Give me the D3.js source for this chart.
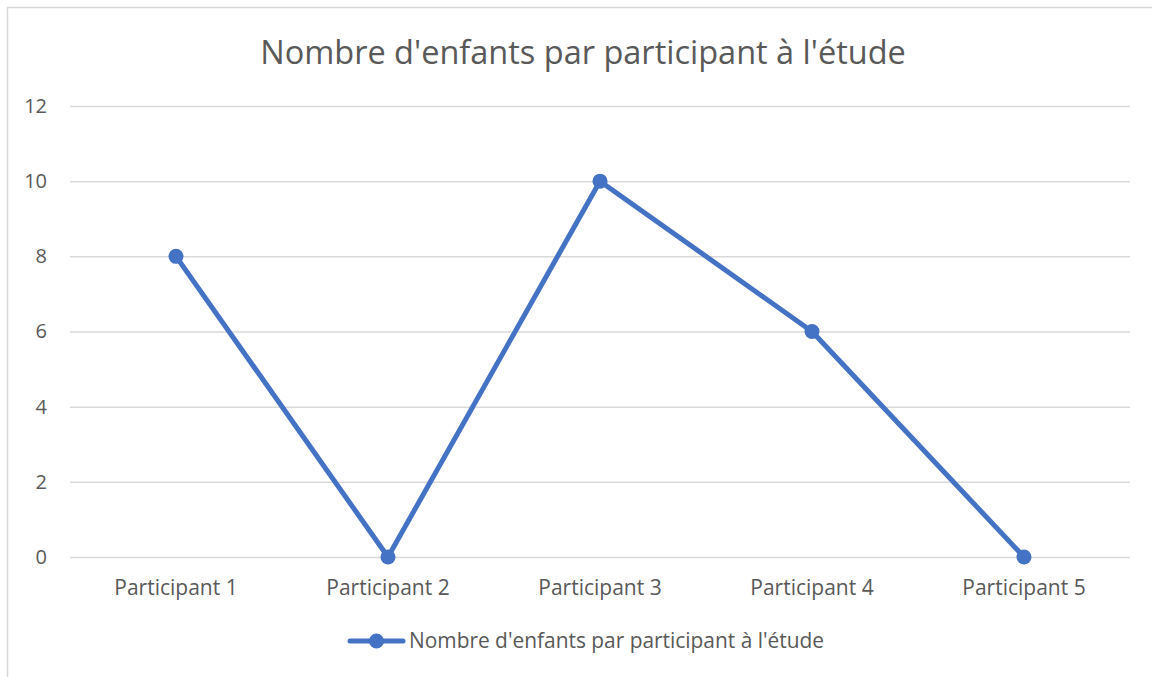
<!DOCTYPE html>
<html>
<head>
<meta charset="utf-8">
<script src="https://cdn.jsdelivr.net/npm/d3@7.9.0/dist/d3.min.js"></script>
<style>
  body { margin: 0; background: #fff; }
  svg { display: block; font-family: "Open Sans", sans-serif; }
</style>
</head>
<body>
<svg id="chart" width="1152" height="677"></svg>
<script>
const title = "Nombre d'enfants par participant à l'étude";
const categories = ['Participant 1', 'Participant 2', 'Participant 3', 'Participant 4', 'Participant 5'];
const values = [8, 0, 10, 6, 0];
const yTicks = [0, 2, 4, 6, 8, 10, 12];

const width = 1152;
const height = 677;
const margin = { top: 106, right: 22, bottom: 120, left: 70 };
const color = '#4472C4';
const textColor = '#595959';
const font = '"Open Sans", sans-serif';

const svg = d3.select('#chart');

// chart area border
svg.append('rect')
  .attr('x', 7.5)
  .attr('y', 7.5)
  .attr('width', width)
  .attr('height', height)
  .attr('fill', 'none')
  .attr('stroke', '#d9d9d9')
  .attr('stroke-width', 1.5);

const x = d3.scaleBand()
  .domain(categories)
  .range([margin.left, width - margin.right]);

const y = d3.scaleLinear()
  .domain([0, 12])
  .range([height - margin.bottom, margin.top]);

svg.append('text')
  .attr('x', 583)
  .attr('y', 64)
  .attr('text-anchor', 'middle')
  .attr('fill', textColor)
  .style('font-size', '32.5px')
  .text(title);

// gridlines
svg.append('g')
  .attr('transform', `translate(${margin.left},0)`)
  .call(d3.axisLeft(y).tickValues(yTicks).tickFormat('').tickSize(-(width - margin.left - margin.right)))
  .call((g) => g.select('.domain').remove())
  .call((g) => g.selectAll('line').attr('stroke', '#d9d9d9').attr('stroke-width', 1.5));

// y labels
svg.append('g')
  .attr('transform', `translate(${margin.left},0)`)
  .call(d3.axisLeft(y).tickValues(yTicks).tickSize(0).tickPadding(23))
  .call((g) => g.select('.domain').remove())
  .call((g) => g.selectAll('text').attr('fill', textColor).style('font-size', '20px').style('font-family', font));

// x labels
svg.append('g')
  .attr('transform', `translate(0,${height - margin.bottom})`)
  .call(d3.axisBottom(x).tickSize(0).tickPadding(23))
  .call((g) => g.select('.domain').remove())
  .call((g) => g.selectAll('text').attr('fill', textColor).style('font-size', '21px').style('font-family', font));

const cx = (d, i) => x(categories[i]) + x.bandwidth() / 2;

const line = d3.line()
  .x((d, i) => cx(d, i))
  .y((d) => y(d));

svg.append('path')
  .datum(values)
  .attr('d', line)
  .attr('fill', 'none')
  .attr('stroke', color)
  .attr('stroke-width', 5)
  .attr('stroke-linejoin', 'round')
  .attr('stroke-linecap', 'round');

svg.append('g')
  .selectAll('circle')
  .data(values)
  .join('circle')
  .attr('cx', cx)
  .attr('cy', (d) => y(d))
  .attr('r', 7.5)
  .attr('fill', color);

// legend
const legend = svg.append('g').attr('transform', 'translate(350,641)');
legend.append('line')
  .attr('x1', 0).attr('x2', 53)
  .attr('stroke', color)
  .attr('stroke-width', 5)
  .attr('stroke-linecap', 'round');
legend.append('circle')
  .attr('cx', 26.5)
  .attr('r', 7.5)
  .attr('fill', color);
legend.append('text')
  .attr('x', 59)
  .attr('dy', '0.35em')
  .attr('fill', textColor)
  .style('font-size', '20.9px')
  .text(title);
</script>
</body>
</html>
